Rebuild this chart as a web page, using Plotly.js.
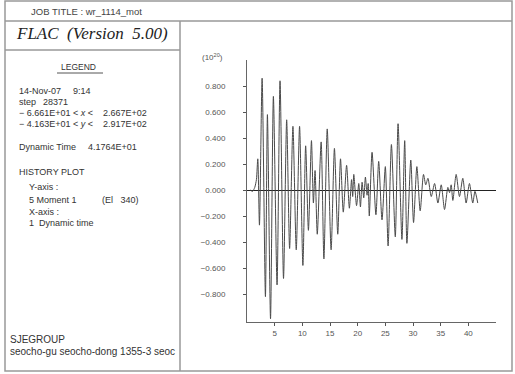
<!DOCTYPE html>
<html>
<head>
<meta charset="utf-8">
<script src="https://cdn.plot.ly/plotly-3.0.1.min.js"></script>
<style>html,body{margin:0;padding:0;background:#fff;}#chart{width:515px;height:374px;}</style>
</head>
<body>
<div id="chart"></div>
<script>
// Data (Moment 1 vs dynamic time, units 10^20)
var dynamicTime = [0.6,1.0,1.4,1.7,1.95,2.25,2.73,3.33,3.69,4.25,4.77,5.43,5.97,6.6,7.17,7.7,8.3,8.9,9.5,10.1,10.6,11.1,11.65,12.0,12.3,12.7,13.4,13.9,14.5,15.2,15.8,16.4,16.9,17.4,18.0,18.5,18.9,19.1,19.3,19.8,20.2,20.5,20.8,21.1,21.4,21.7,21.9,22.1,22.6,23.3,23.8,24.4,25.0,25.5,26.1,26.8,27.3,28.0,28.5,28.9,29.6,30.1,30.7,31.3,31.9,32.3,32.7,33.3,33.9,34.5,35.1,35.7,36.3,36.6,36.9,37.2,37.8,38.4,39.0,39.6,40.2,40.8,41.2,41.7];
var moment1 = [0,-0.01,0.02,0.08,0.24,-0.27,0.86,-0.82,0.58,-0.99,0.72,-0.73,0.84,-0.68,0.54,-0.45,0.49,-0.46,0.49,-0.58,0.34,-0.31,0.38,-0.10,0.15,-0.34,0.37,-0.53,0.47,-0.46,0.32,-0.34,0.24,-0.17,0.19,-0.14,0.08,-0.05,0.12,-0.12,0.05,-0.13,0.06,-0.06,0.10,-0.04,0.05,-0.20,0.29,-0.19,0.22,-0.23,0.18,-0.43,0.35,-0.36,0.51,-0.38,0.38,-0.41,0.23,-0.25,0.18,-0.16,0.12,0.04,0.09,-0.05,0.05,-0.10,0.04,-0.15,0.02,-0.02,0.04,-0.08,0.12,-0.05,0.09,-0.10,0.05,-0.10,-0.01,-0.10];
var xTickVals = [5,10,15,20,25,30,35,40];
var yTickVals = [-0.8,-0.6,-0.4,-0.2,0,0.2,0.4,0.6,0.8];

// Layout geometry (pixels)
var W = 515, H = 374;
var PL = 247, PR = 496, PT = 60, PB = 322;
function px(x){ return (x - PL) / (PR - PL); }
function py(y){ return (PB - y) / (PB - PT); }

var FONT = 'Liberation Sans, Arial, sans-serif';
function txt(s, x, y, size, extra){
  var a = {text: s, xref: 'paper', yref: 'paper', x: px(x), y: py(y),
    xanchor: 'left', yanchor: 'middle', showarrow: false,
    font: {family: FONT, size: size || 9, color: '#333'}};
  if (extra) for (var k in extra) a[k] = extra[k];
  return a;
}
function line(x0, y0, x1, y1, color, w){
  return {type: 'line', xref: 'paper', yref: 'paper',
    x0: px(x0), y0: py(y0), x1: px(x1), y1: py(y1),
    line: {color: color || '#999', width: w || 1.5}};
}

var annotations = [
  txt('JOB TITLE : wr_1114_mot', 29, 12, 9.5, {font: {family: FONT, size: 9.5, color: '#444'}}),
  txt('FLAC  (Version  5.00)', 92, 34, 17, {xanchor: 'center', font: {family: 'Liberation Serif, Times New Roman, serif', size: 17, color: '#222', style: 'italic'}}),
  txt('LEGEND', 78, 67, 8.5, {xanchor: 'center'}),
  txt('14-Nov-07', 17, 91),
  txt('9:14', 71, 91),
  txt('step', 17, 102),
  txt('28371', 41, 102),
  txt('\u2212 6.661E+01 < <i>x</i> <', 17, 113),
  txt('2.667E+02', 101, 113),
  txt('\u2212 4.163E+01 < <i>y</i> <', 17, 124),
  txt('2.917E+02', 101, 124),
  txt('Dynamic Time', 17, 147),
  txt('4.1764E+01', 86, 147),
  txt('HISTORY PLOT', 17, 172),
  txt('Y-axis :', 27, 187),
  txt('5 Moment 1', 27, 200),
  txt('(El   340)', 100, 200),
  txt('X-axis :', 27, 212),
  txt('1  Dynamic time', 27, 223),
  txt('SJEGROUP', 8, 339, 10),
  txt('seocho-gu seocho-dong 1355-3 seoc', 8, 351, 10),
  txt('(10<sup>20</sup>)', 212, 57, 8, {xanchor: 'center', font: {family: FONT, size: 8, color: '#555'}})
];

var shapes = [
  {type: 'rect', xref: 'paper', yref: 'paper', x0: px(5), y0: py(1), x1: px(512), y1: py(371), line: {color: '#999', width: 1.5}},
  line(5, 21, 512, 21),
  line(180, 21, 180, 371),
  line(5, 50, 180, 50),
  line(57, 73, 103, 73, '#555', 1)
];

var trace = {
  x: dynamicTime, y: moment1, type: 'scatter', mode: 'lines',
  line: {color: '#4a4a4a', width: 1, shape: 'spline', smoothing: 0.7}, hoverinfo: 'none'
};

var layout = {
  width: W, height: H,
  margin: {l: PL, r: W - PR, t: PT, b: H - PB, pad: 0},
  paper_bgcolor: '#fff', plot_bgcolor: '#fff',
  showlegend: false,
  xaxis: {range: [0, 45], tickmode: 'array', tickvals: xTickVals, ticks: 'outside', ticklen: 3,
    tickcolor: '#555', showline: true, linecolor: '#666', linewidth: 1, showgrid: false, zeroline: false,
    tickfont: {family: FONT, size: 8, color: '#555'}, fixedrange: true},
  yaxis: {range: [-1.015, 1.0], tickmode: 'array', tickvals: yTickVals, tickformat: '.3f', ticks: 'outside', ticklen: 3,
    tickcolor: '#555', showline: true, linecolor: '#666', linewidth: 1, showgrid: false,
    zeroline: true, zerolinecolor: '#222', zerolinewidth: 1, ticklabelstandoff: 16,
    tickfont: {family: FONT, size: 8, color: '#555'}, fixedrange: true},
  annotations: annotations,
  shapes: shapes
};

Plotly.newPlot('chart', [trace], layout, {staticPlot: true, displayModeBar: false});
</script>
</body>
</html>
